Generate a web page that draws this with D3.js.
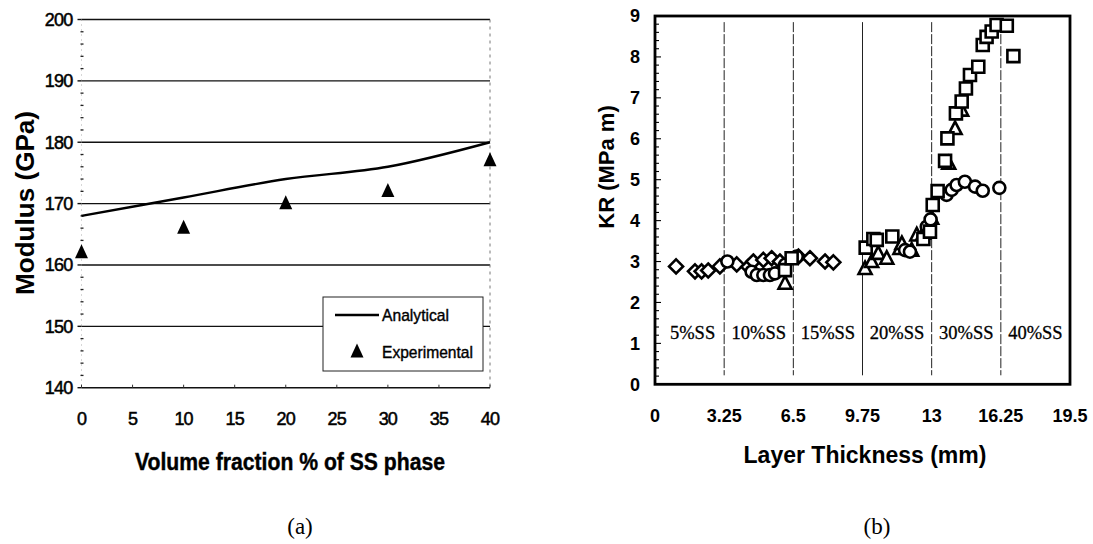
<!DOCTYPE html>
<html>
<head>
<meta charset="utf-8">
<script src="https://cdn.jsdelivr.net/npm/d3@7"></script>
<style>
  html, body { margin: 0; padding: 0; background: #fff; }
  svg { display: block; }
</style>
</head>
<body>
<svg id="fig" width="1093" height="544"></svg>
<script>
// ---- (a) Modulus vs volume fraction ----
const volFraction = [0, 10, 20, 30, 40];
const analytical = [168, 171, 174, 176, 180];
const experimental = [162, 166, 170, 172, 177];
const aXTicks = [0, 5, 10, 15, 20, 25, 30, 35, 40];
const aYTicks = [140, 150, 160, 170, 180, 190, 200];
const legendLabels = ["Analytical", "Experimental"];

// ---- (b) KR vs layer thickness ----
const diamonds = [
  [0.99, 2.88], [1.88, 2.76], [2.19, 2.76], [2.5, 2.78], [3.05, 2.88], [3.84, 2.93],
  [4.39, 2.87], [4.62, 3.0], [5.09, 3.04], [5.48, 3.08], [5.87, 3.0], [6.74, 3.12],
  [7.28, 3.08], [7.99, 3.0], [8.38, 2.98]
];
const circles = [
  [3.4, 3.0], [4.54, 2.75], [4.78, 2.67], [5.09, 2.67], [5.4, 2.67], [5.64, 2.71],
  [6.11, 2.92], [6.66, 3.12],
  [11.75, 3.28], [11.98, 3.24], [12.77, 3.85], [12.95, 4.03], [13.7, 4.63],
  [13.94, 4.75], [14.17, 4.87], [14.56, 4.95], [15.04, 4.83], [15.4, 4.73], [16.18, 4.8]
];
const triangles = [
  [6.11, 2.47], [9.87, 2.83], [10.18, 3.0], [10.49, 3.2], [10.89, 3.08], [11.51, 3.32],
  [11.6, 3.44], [12.06, 3.28], [12.3, 3.65], [12.61, 3.69], [13.0, 4.06],
  [13.8, 5.4], [14.1, 6.25], [14.41, 6.7]
];
const squares = [
  [6.11, 2.79], [6.42, 3.08],
  [9.9, 3.34], [10.26, 3.55], [10.42, 3.53], [11.15, 3.61], [12.61, 3.55], [12.92, 3.73],
  [13.05, 4.38], [13.28, 4.72], [13.63, 5.46], [13.74, 6.01], [14.14, 6.62], [14.41, 6.91],
  [14.61, 7.23], [14.8, 7.56], [15.19, 7.76], [15.4, 8.29], [15.58, 8.49], [15.82, 8.62],
  [16.05, 8.78], [16.53, 8.76], [16.84, 8.02]
];
const bXTicks = [0, 3.25, 6.5, 9.75, 13, 16.25, 19.5];
const bYTicks = [0, 1, 2, 3, 4, 5, 6, 7, 8, 9];
const layerBounds = [3.25, 6.5, 9.75, 13, 16.25];
const layerLabels = ["5%SS", "10%SS", "15%SS", "20%SS", "30%SS", "40%SS"];

const SANS = "'Liberation Sans', Arial, sans-serif";
const SERIF = "'Liberation Serif', 'Times New Roman', serif";
const svg = d3.select("#fig");

// ================= panel (a) =================
const ax = d3.scaleLinear().domain([0, 40]).range([81.5, 490]);
const ay = d3.scaleLinear().domain([140, 200]).range([387.7, 19.5]);
const ga = svg.append("g");

// horizontal gridlines
ga.selectAll("line.grid").data(aYTicks.slice(1)).join("line")
  .attr("x1", ax(0)).attr("x2", ax(40))
  .attr("y1", d => ay(d)).attr("y2", d => ay(d))
  .attr("stroke", "#111").attr("stroke-width", 1.4);

// right dotted border
ga.append("line").attr("x1", ax(40)).attr("x2", ax(40))
  .attr("y1", ay(200)).attr("y2", ay(140))
  .attr("stroke", "#777").attr("stroke-width", 1).attr("stroke-dasharray", "3,4");

// left axis: faint line, minor dashes and outward major ticks
ga.append("line").attr("x1", ax(0)).attr("x2", ax(0))
  .attr("y1", ay(200)).attr("y2", ay(140))
  .attr("stroke", "#999").attr("stroke-width", 0.8).attr("stroke-dasharray", "1,4");
const minorA = d3.range(140, 200.1, 2).filter(v => v % 10 !== 0);
ga.selectAll("line.minor").data(minorA).join("line")
  .attr("x1", ax(0) - 1).attr("x2", ax(0) + 2)
  .attr("y1", d => ay(d)).attr("y2", d => ay(d))
  .attr("stroke", "#222").attr("stroke-width", 1.3);
ga.selectAll("line.major").data(aYTicks).join("line")
  .attr("x1", ax(0) - 4).attr("x2", ax(0))
  .attr("y1", d => ay(d)).attr("y2", d => ay(d))
  .attr("stroke", "#111").attr("stroke-width", 1.4);

// bottom axis
ga.append("line").attr("x1", ax(0)).attr("x2", ax(40))
  .attr("y1", ay(140)).attr("y2", ay(140))
  .attr("stroke", "#111").attr("stroke-width", 1.6);
ga.selectAll("line.xt").data(aXTicks).join("line")
  .attr("x1", d => ax(d)).attr("x2", d => ax(d))
  .attr("y1", ay(140)).attr("y2", ay(140) - 3)
  .attr("stroke", "#333").attr("stroke-width", 1);

// tick labels (slightly heavy regular face)
ga.selectAll("text.yl").data(aYTicks).join("text")
  .attr("x", ax(0) - 9).attr("y", d => ay(d)).attr("dy", "0.36em")
  .attr("text-anchor", "end").attr("font-family", SANS).attr("font-size", 18)
  .attr("letter-spacing", -0.8).attr("fill", "#000")
  .attr("stroke", "#000").attr("stroke-width", 0.5).text(d => d);
ga.selectAll("text.xl").data(aXTicks).join("text")
  .attr("x", d => ax(d)).attr("y", 425)
  .attr("text-anchor", "middle").attr("font-family", SANS).attr("font-size", 18)
  .attr("letter-spacing", -0.8).attr("fill", "#000")
  .attr("stroke", "#000").attr("stroke-width", 0.5).text(d => d);

// axis titles
ga.append("text").attr("x", 290).attr("y", 470)
  .attr("text-anchor", "middle").attr("font-family", SANS).attr("font-size", 23)
  .attr("font-weight", "bold").attr("stroke", "#000").attr("stroke-width", 0.4)
  .attr("textLength", 310).attr("lengthAdjust", "spacingAndGlyphs")
  .text("Volume fraction % of SS phase");
ga.append("text").attr("transform", "translate(34,203) rotate(-90)")
  .attr("text-anchor", "middle").attr("font-family", SANS).attr("font-size", 26)
  .attr("font-weight", "bold").attr("textLength", 184).attr("lengthAdjust", "spacingAndGlyphs")
  .text("Modulus (GPa)");

// analytical curve
const aLine = d3.line().x((d, i) => ax(volFraction[i])).y(d => ay(d))
  .curve(d3.curveCatmullRom.alpha(0.5));
ga.append("path").attr("d", aLine(analytical))
  .attr("fill", "none").attr("stroke", "#000").attr("stroke-width", 2.4);

// experimental triangles
const triPath = (w, h) => `M0,${-h * 0.6}L${w / 2},${h * 0.4}L${-w / 2},${h * 0.4}Z`;
ga.selectAll("path.exp").data(experimental).join("path")
  .attr("transform", (d, i) => `translate(${ax(volFraction[i])},${ay(d)})`)
  .attr("d", triPath(13, 14)).attr("fill", "#000");

// legend
const lg = ga.append("g");
lg.append("rect").attr("x", 323).attr("y", 297).attr("width", 160).attr("height", 74)
  .attr("fill", "#fff").attr("stroke", "#222").attr("stroke-width", 1);
lg.append("line").attr("x1", 335).attr("x2", 379).attr("y1", 315).attr("y2", 315)
  .attr("stroke", "#000").attr("stroke-width", 2.4);
lg.append("path").attr("transform", "translate(357,352)").attr("d", triPath(13, 14)).attr("fill", "#000");
lg.append("text").attr("x", 382).attr("y", 321).attr("font-family", SANS).attr("font-size", 17)
  .attr("stroke", "#000").attr("stroke-width", 0.4)
  .attr("textLength", 67).attr("lengthAdjust", "spacingAndGlyphs").text(legendLabels[0]);
lg.append("text").attr("x", 382).attr("y", 358).attr("font-family", SANS).attr("font-size", 17)
  .attr("stroke", "#000").attr("stroke-width", 0.4)
  .attr("textLength", 91).attr("lengthAdjust", "spacingAndGlyphs").text(legendLabels[1]);

ga.append("text").attr("x", 300).attr("y", 534).attr("text-anchor", "middle")
  .attr("font-family", SERIF).attr("font-size", 23).text("(a)");

// ================= panel (b) =================
const bx = d3.scaleLinear().domain([0, 19.5]).range([655, 1070]);
const by = d3.scaleLinear().domain([0, 9]).range([384.3, 16]);
const gb = svg.append("g");

// layer boundaries
gb.selectAll("line.bound").data(layerBounds).join("line")
  .attr("x1", d => bx(d)).attr("x2", d => bx(d))
  .attr("y1", by(8.85)).attr("y2", by(0.22))
  .attr("stroke", "#222").attr("stroke-width", 1)
  .attr("stroke-dasharray", (d, i) => i === 2 ? null : "10,2");

// layer labels
const mids = [0].concat(layerBounds).map((b, i, arr) => (b + (i < arr.length - 1 ? arr[i + 1] : 19.5)) / 2);
gb.selectAll("text.layer").data(layerLabels).join("text")
  .attr("x", (d, i) => bx(mids[i]) + (i === 0 ? 3 : 0)).attr("y", 339)
  .attr("text-anchor", "middle").attr("font-family", SERIF).attr("font-size", 18.5)
  .attr("stroke", "#000").attr("stroke-width", 0.3)
  .text(d => d);

// frame
gb.append("rect").attr("x", bx(0)).attr("y", by(9))
  .attr("width", bx(19.5) - bx(0)).attr("height", by(0) - by(9))
  .attr("fill", "none").attr("stroke", "#000").attr("stroke-width", 2.8);

// inward ticks on the left axis
const minorB = d3.range(0, 9.01, 0.2).map(v => +v.toFixed(1));
gb.selectAll("line.btick").data(minorB).join("line")
  .attr("x1", bx(0)).attr("x2", d => bx(0) + (Number.isInteger(d) ? 6 : 4))
  .attr("y1", d => by(d)).attr("y2", d => by(d))
  .attr("stroke", "#000").attr("stroke-width", 1.1);

// tick labels
gb.selectAll("text.by").data(bYTicks).join("text")
  .attr("x", 640).attr("y", d => by(d)).attr("dy", "0.36em")
  .attr("text-anchor", "end").attr("font-family", SANS).attr("font-size", 18)
  .attr("font-weight", "bold").text(d => d);
gb.selectAll("text.bx").data(bXTicks).join("text")
  .attr("x", d => bx(d)).attr("y", 421.5)
  .attr("text-anchor", "middle").attr("font-family", SANS).attr("font-size", 18)
  .attr("font-weight", "bold").text(d => d);

// axis titles
gb.append("text").attr("x", 865).attr("y", 463)
  .attr("text-anchor", "middle").attr("font-family", SANS).attr("font-size", 23)
  .attr("font-weight", "bold").text("Layer Thickness (mm)");
gb.append("text").attr("transform", "translate(614,167) rotate(-90)")
  .attr("text-anchor", "middle").attr("font-family", SANS).attr("font-size", 22)
  .attr("font-weight", "bold").text("KR (MPa m)");

// markers (open, white filled)
const mk = { fill: "#fff", stroke: "#000", sw: 2.6 };
function place(sel, data) {
  return sel.data(data).join("path")
    .attr("transform", d => `translate(${bx(d[0])},${by(d[1])})`)
    .attr("fill", mk.fill).attr("stroke", mk.stroke).attr("stroke-width", mk.sw);
}
place(gb.append("g").selectAll("path"), diamonds).attr("d", "M0,-7L7,0L0,7L-7,0Z");
place(gb.append("g").selectAll("path"), triangles).attr("d", "M0,-7L6.5,5.5L-6.5,5.5Z");
place(gb.append("g").selectAll("path"), circles).attr("d", d3.symbol(d3.symbolCircle, Math.PI * 6 * 6)());
place(gb.append("g").selectAll("path"), squares).attr("d", "M-6,-6H6V6H-6Z");

gb.append("text").attr("x", 877).attr("y", 534).attr("text-anchor", "middle")
  .attr("font-family", SERIF).attr("font-size", 23).text("(b)");
</script>
</body>
</html>
